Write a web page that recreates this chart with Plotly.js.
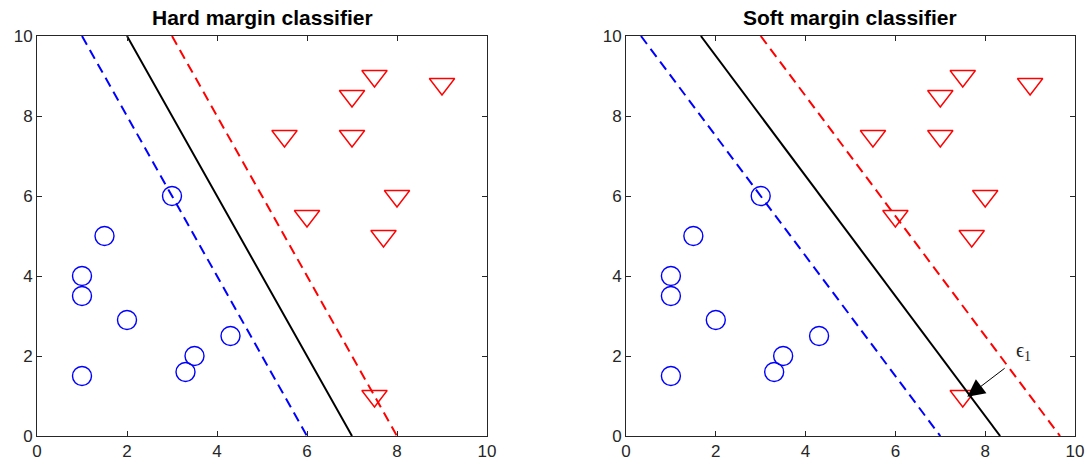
<!DOCTYPE html>
<html>
<head>
<meta charset="utf-8">
<script src="https://cdn.plot.ly/plotly-3.0.1.min.js"></script>
<style>html,body{margin:0;padding:0;background:#fff;}#chart{width:1089px;height:468px;}</style>
</head>
<body>
<div id="chart"></div>
<script>
// Data
const blueX = [1, 1, 1, 1.5, 2, 3, 3.3, 3.5, 4.3];
const blueY = [1.5, 3.5, 4, 5, 2.9, 6, 1.6, 2, 2.5];
const redX = [5.5, 7, 7, 7.5, 9, 6, 8, 7.7, 7.5];
const redY = [7.5, 7.5, 8.5, 9, 8.8, 5.5, 6, 5, 1];

// Hard margin lines (x endpoints at y=10 and y=0)
const hardLineY = [10, 0];
const hardBlackX = [2, 7];
const hardBlueX = [1, 6];
const hardRedX = [3, 8];

// Soft margin lines
const softLineY = [10, 0];
const softBlackX = [1.667, 8.333];
const softBlueX = [0.333, 7];
const softRedX = [3, 9.667];

// Slack arrow (soft margin)
const arrowTail = [8.5, 1.75];
const arrowHead = [7.6, 0.98];
const epsLabelPos = [8.85, 2.12];

const tickVals = [0, 2, 4, 6, 8, 10];
const titles = ["Hard margin classifier", "Soft margin classifier"];

const axisColor = '#262626';
const dashPat = '10px,6px';
const sans = 'Liberation Sans, Arial, sans-serif';

function lineTrace(x, y, color, dash, xa, ya) {
  return {x: x, y: y, mode: 'lines', type: 'scatter', xaxis: xa, yaxis: ya,
    line: {color: color, width: 2, dash: dash}, showlegend: false, hoverinfo: 'skip'};
}
function markerTraces(xa, ya) {
  return [
    {x: blueX, y: blueY, mode: 'markers', type: 'scatter', xaxis: xa, yaxis: ya, showlegend: false,
      marker: {symbol: 'circle-open', size: 19, color: '#0000ff', line: {width: 1.4, color: '#0000ff'}}},
    {x: redX, y: redY, mode: 'markers', type: 'scatter', xaxis: xa, yaxis: ya, showlegend: false,
      marker: {symbol: 'triangle-down-open', size: 22, color: '#ff0000', line: {width: 1.4, color: '#ff0000'}}}
  ];
}

const traces = [
  ...markerTraces('x', 'y'),
  lineTrace(hardBlackX, hardLineY, '#000000', 'solid', 'x', 'y'),
  lineTrace(hardBlueX, hardLineY, '#0000ff', dashPat, 'x', 'y'),
  lineTrace(hardRedX, hardLineY, '#ff0000', dashPat, 'x', 'y'),
  ...markerTraces('x2', 'y2'),
  lineTrace(softBlackX, softLineY, '#000000', 'solid', 'x2', 'y2'),
  lineTrace(softBlueX, softLineY, '#0000ff', dashPat, 'x2', 'y2'),
  lineTrace(softRedX, softLineY, '#ff0000', dashPat, 'x2', 'y2')
];

function axis(domain, anchor) {
  return {domain: domain, anchor: anchor, range: [0, 10], tickvals: tickVals,
    ticks: 'inside', ticklen: 5, tickcolor: axisColor, tickwidth: 1,
    showline: true, linecolor: axisColor, linewidth: 1, mirror: 'ticks',
    showgrid: false, zeroline: false,
    tickfont: {family: sans, size: 17, color: axisColor}};
}

const yDom = [1 - 436/468, 1 - 36/468];
const layout = {
  width: 1089, height: 468,
  margin: {l: 0, r: 0, t: 0, b: 0},
  paper_bgcolor: '#fff', plot_bgcolor: '#fff',
  showlegend: false,
  xaxis: axis([37/1089, 487/1089], 'y'),
  yaxis: axis(yDom, 'x'),
  xaxis2: axis([626/1089, 1075/1089], 'y2'),
  yaxis2: axis(yDom, 'x2'),
  annotations: [
    {text: '<b>' + titles[0] + '</b>', xref: 'paper', yref: 'paper', x: 262/1089, y: 1 - 18/468,
      showarrow: false, font: {family: sans, size: 21, color: '#000'}, xanchor: 'center', yanchor: 'middle'},
    {text: '<b>' + titles[1] + '</b>', xref: 'paper', yref: 'paper', x: 850/1089, y: 1 - 18/468,
      showarrow: false, font: {family: sans, size: 21, color: '#000'}, xanchor: 'center', yanchor: 'middle'},
    {x: arrowHead[0], y: arrowHead[1], ax: arrowTail[0], ay: arrowTail[1],
      xref: 'x2', yref: 'y2', axref: 'x2', ayref: 'y2', text: ' ', showarrow: true,
      arrowhead: 2, arrowsize: 3.5, arrowwidth: 1, arrowcolor: '#000'},
    {x: epsLabelPos[0], y: epsLabelPos[1], xref: 'x2', yref: 'y2', text: 'ϵ<sub>1</sub>',
      showarrow: false, font: {family: 'Liberation Serif, serif', size: 20, color: '#262626'}}
  ]
};

Plotly.newPlot('chart', traces, layout, {displayModeBar: false, staticPlot: true});
</script>
</body>
</html>
